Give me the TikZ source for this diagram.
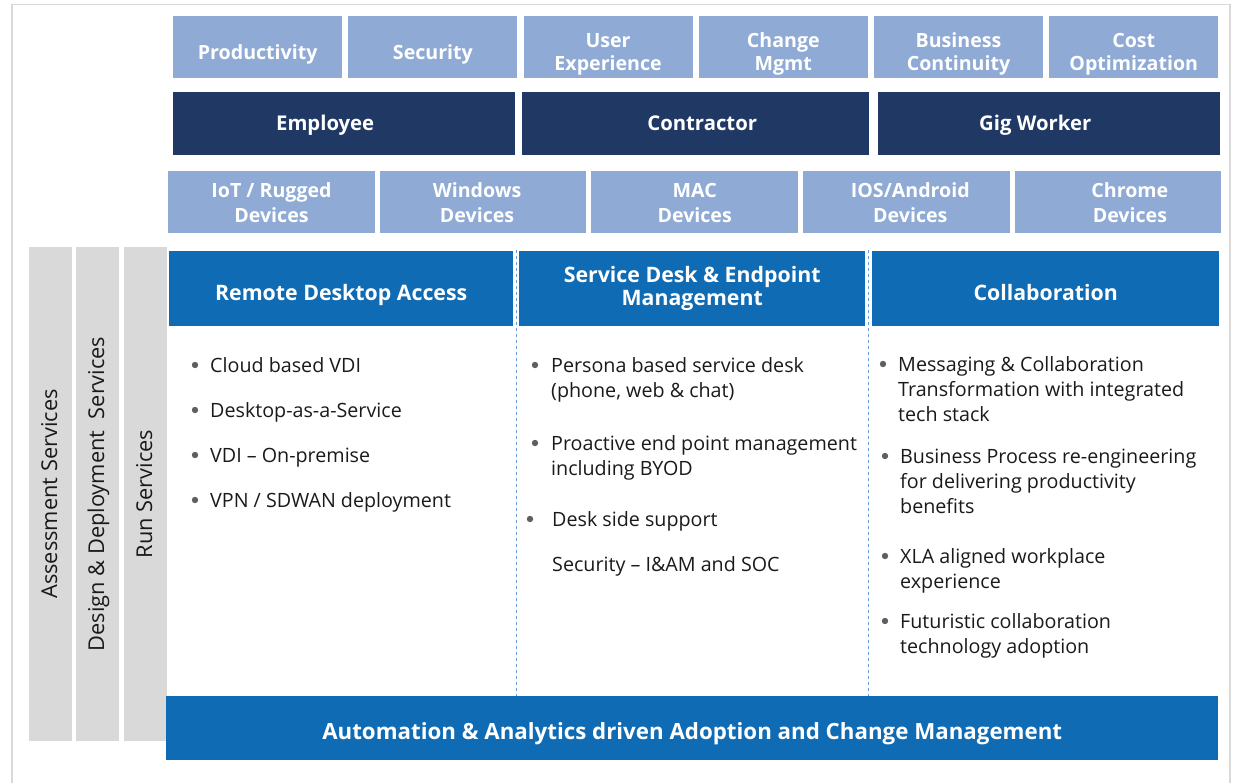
\documentclass[tikz,border=0pt]{standalone}
\usepackage{fontspec}
\setmainfont{Open Sans}
\usepackage{xcolor}
\usetikzlibrary{positioning}

\definecolor{goalblue}{HTML}{8EAAD5}
\definecolor{usernavy}{HTML}{1F3864}
\definecolor{pillarblue}{HTML}{0F6BB3}
\definecolor{railgray}{HTML}{D9D9D9}
\definecolor{sepblue}{HTML}{6A9AD8}
\definecolor{dotgray}{HTML}{5F5F5F}
\definecolor{bodyblack}{HTML}{1A1A1A}

\begin{document}
\begin{tikzpicture}[x=1pt,y=-1pt,inner sep=0pt,
  goal/.style={fill=goalblue,text=white,anchor=north west,align=center,minimum width=169pt,minimum height=62pt,text depth=0pt,text height=24pt,font=\bfseries\fontsize{19.6}{23.5}\selectfont},
  goal2/.style={goal,text height=47pt},
  user/.style={fill=usernavy,text=white,anchor=north west,minimum height=63pt,text depth=0pt,text height=13pt,font=\bfseries\fontsize{20.3}{24}\selectfont},
  device/.style={goal,minimum width=206.6pt,text height=40pt,font=\bfseries\fontsize{19.6}{24.5}\selectfont},
  pillar/.style={fill=pillarblue,text=white,anchor=north west,align=center,minimum height=75pt,text depth=0pt,text height=23pt,font=\bfseries\fontsize{21.3}{23}\selectfont},
  rail/.style={fill=railgray,text=bodyblack,rotate=90,minimum width=494pt,minimum height=43pt,text depth=0pt,text height=13pt,font=\fontsize{21.8}{24}\selectfont},
  item/.style={anchor=base west,align=left,text=bodyblack,font=\fontsize{19.7}{25}\selectfont},
  sep/.style={sepblue,dashed,line width=0.8pt}]
\useasboundingbox (0,0) rectangle (1233,782);

% frame
\draw[railgray,line width=1.2pt] (12,790) -- (12,4.5) -- (1230,4.5) -- (1230,790);

% goals
\node[goal] (prod) at (173,16) {Productivity};
\node[goal] (secu) at (348.2,16) {Security};
\node[goal2] (ux) at (523.4,16) {User\\Experience};
\node[goal2] (chg) at (698.6,16) {Change\\Mgmt};
\node[goal2] (bc) at (873.8,16) {Business\\Continuity};
\node[goal2] (cost) at (1049,16) {Cost\\Optimization};

% users
\node[user,minimum width=342pt] (emp) at (173,92) {Employee\hspace*{38pt}};
\node[user,minimum width=347pt] (con) at (522,92) {\hspace*{13pt}Contractor};
\node[user,minimum width=342pt] (gig) at (878,92) {Gig Worker\hspace*{28pt}};

% devices
\node[device] (iot) at (168,171) {IoT / Rugged\\Devices};
\node[device] (win) at (379.6,171) {Windows\hspace*{12pt}\\Devices\hspace*{12pt}};
\node[device] (mac) at (591.2,171) {MAC\\Devices};
\node[device] (ios) at (802.8,171) {\hspace*{8pt}IOS/Android\\\hspace*{8pt}Devices};
\node[device] (chr) at (1014.4,171) {\hspace*{24pt}Chrome\\\hspace*{24pt}Devices};

% service rails
\node[rail] (assess) at (50.5,494) {Assessment Services};
\node[rail] (design) at (97.5,494) {Design \& Deployment\ \ Services};
\node[rail] (run) at (145.5,494) {Run Services};

% separators
\coordinate (d1t) at (516,250);
\coordinate (d1b) at (516,696);
\coordinate (d2t) at (868,250);
\coordinate (d2b) at (868,696);
\draw[sep] (d1t) -- (d1b);
\draw[sep] (d2t) -- (d2b);

% pillars
\node[pillar,minimum width=344pt] (rda) at (169,251) {Remote Desktop Access};
\node[pillar,minimum width=346pt,text height=33pt] (sdm) at (519,251) {Service Desk \& Endpoint\\Management};
\node[pillar,minimum width=347pt] (col) at (872,251) {Collaboration};
\node[pillar,minimum width=1052pt,minimum height=64pt,text height=22pt,font=\bfseries\fontsize{22.3}{24}\selectfont] (auto) at (166,696) {Automation \& Analytics driven Adoption and Change Management};

% remote desktop items
\node[item] (r1) at (210,372) {Cloud based VDI};
\node[item] (r2) at (210,417) {Desktop-as-a-Service};
\node[item] (r3) at (210,462) {VDI -- On-premise};
\node[item] (r4) at (210,507) {VPN / SDWAN deployment};
\foreach \y in {365,410,455,500} \fill[dotgray] (195,\y) circle (3.2pt);

% service desk items
\node[item] (s1) at (551,397) {Persona based service desk\\(phone, web \& chat)};
\node[item] (s2) at (551,475) {Proactive end point management\\including BYOD};
\node[item] (s3) at (552,526) {Desk side support};
\node[item] (s4) at (552,571) {Security -- I\&AM and SOC};
\fill[dotgray] (535,365) circle (3.2pt);
\fill[dotgray] (535,443) circle (3.2pt);
\fill[dotgray] (530,519) circle (3.2pt);

% collaboration items
\node[item] (c1) at (898,421) {Messaging \& Collaboration\\Transformation with integrated\\tech stack};
\node[item] (c2) at (900,513) {Business Process re-engineering\\for delivering productivity\\benefits};
\node[item] (c3) at (900,588) {XLA aligned workplace\\experience};
\node[item] (c4) at (900,653) {Futuristic collaboration\\technology adoption};
\fill[dotgray] (883,364) circle (3.2pt);
\foreach \y in {456,556,621} \fill[dotgray] (885,\y) circle (3.2pt);

\end{tikzpicture}
\end{document}
